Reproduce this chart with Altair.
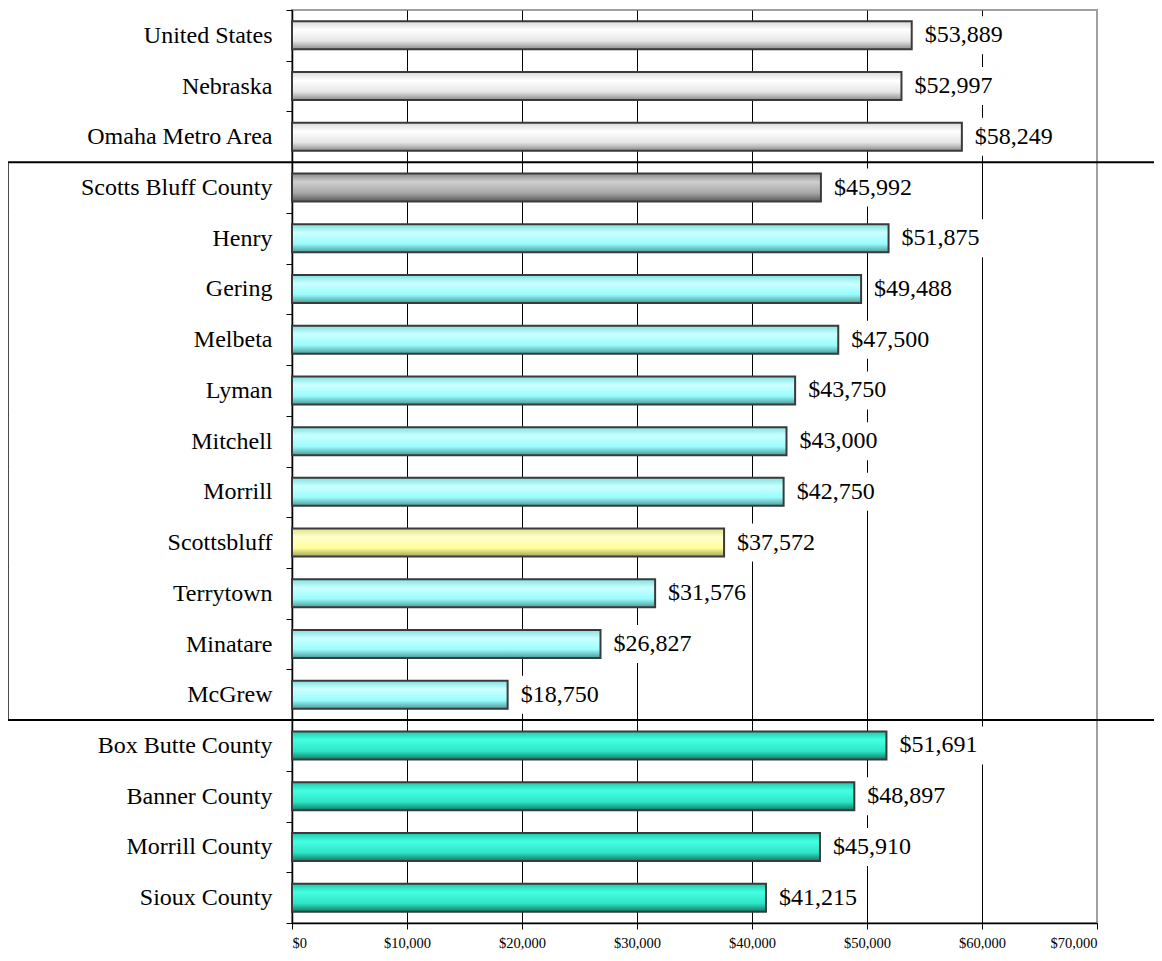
import altair as alt
import pandas as pd

names = ["United States", "Nebraska", "Omaha Metro Area", "Scotts Bluff County", "Henry",
         "Gering", "Melbeta", "Lyman", "Mitchell", "Morrill", "Scottsbluff", "Terrytown",
         "Minatare", "McGrew", "Box Butte County", "Banner County", "Morrill County", "Sioux County"]
values = [53889, 52997, 58249, 45992, 51875, 49488, 47500, 43750, 43000, 42750, 37572, 31576,
          26827, 18750, 51691, 48897, 45910, 41215]
groups = ["ref"] * 3 + ["sbc"] + ["city"] * 6 + ["focus"] + ["city"] * 3 + ["county"] * 4
x_ticks = [0, 10000, 20000, 30000, 40000, 50000, 60000, 70000]

df = pd.DataFrame({"name": names, "value": values, "grp": groups})

FONT = "Liberation Serif"


def grad(c0, c1, c2, c3):
    return {"gradient": "linear", "x1": 0, "y1": 0, "x2": 0, "y2": 1,
            "stops": [{"offset": 0, "color": c0}, {"offset": 0.3, "color": c1},
                      {"offset": 0.7, "color": c2}, {"offset": 1, "color": c3}]}


fills = {
    "ref": grad("#d8d8d8", "#ffffff", "#e6e6e6", "#8c8c8c"),
    "sbc": grad("#8c8c8c", "#cfcfcf", "#a6a6a6", "#5a5a5a"),
    "city": grad("#7fe0e0", "#ccffff", "#99fcfc", "#4a9a9a"),
    "focus": grad("#e0e08a", "#ffffcc", "#ffff99", "#a0a05a"),
    "county": grad("#1fc8a8", "#44ffe2", "#2ee6c6", "#0f7a68"),
}

y_scale = alt.Scale(paddingInner=0, paddingOuter=0)
y_axis = alt.Axis(title=None, domainColor="black", domainWidth=1.5, tickColor="black",
                  tickSize=6, tickBand="extent", labelFont=FONT, labelFontSize=24,
                  labelColor="black", labelPadding=14, labelLimit=400)
x_scale = alt.Scale(domain=[0, 70000], nice=False)
x_axis = alt.Axis(title=None, values=x_ticks, format="$,.0f", grid=True,
                  gridColor={"condition": {"test": "datum.value === 70000", "value": "#a0a0a0"},
                             "value": "black"},
                  gridWidth=1, domainColor="black", domainWidth=1.5, tickColor="black",
                  tickSize=6, labelFont=FONT, labelFontSize=14.5, labelColor="black",
                  labelPadding=7)


def Y(**kw):
    return alt.Y("name:N", sort=names, scale=y_scale, axis=y_axis, **kw)


base = alt.Chart(df)

# white label backgrounds (hide gridlines behind value labels)
boxes = base.transform_calculate(
    lo="datum.value + 600", hi="datum.value + 8400"
).mark_bar(size=38, color="white").encode(
    y=Y(),
    x=alt.X("lo:Q", scale=x_scale, axis=x_axis),
    x2="hi:Q",
)

bars = []
for g, f in fills.items():
    bars.append(
        base.transform_filter(alt.datum.grp == g)
        .mark_bar(size=28, fill=f, stroke="#3a3a3a", strokeWidth=2)
        .encode(y=Y(), x=alt.X("value:Q", scale=x_scale, axis=x_axis))
    )

labels = base.mark_text(align="left", baseline="middle", dx=13, font=FONT,
                        fontSize=24, color="black").encode(
    y=Y(),
    x=alt.X("value:Q", scale=x_scale, axis=x_axis),
    text=alt.Text("value:Q", format="$,.0f"),
)

frame_top = base.transform_filter(alt.datum.name == "Scotts Bluff County").mark_rule(
    color="black", strokeWidth=2).encode(
    y=Y(bandPosition=0), x=alt.value(-284), x2=alt.value(862))
frame_bottom = base.transform_filter(alt.datum.name == "McGrew").mark_rule(
    color="black", strokeWidth=2).encode(
    y=Y(bandPosition=1), x=alt.value(-284), x2=alt.value(862))
frame_left = base.transform_filter(
    alt.FieldOneOfPredicate(field="grp", oneOf=["sbc", "city", "focus"])
).mark_tick(orient="vertical", size=51, thickness=2, color="black").encode(
    y=Y(), x=alt.value(-284))

chart = alt.layer(boxes, *bars, labels, frame_top, frame_bottom, frame_left).properties(
    width=805, height=913,
    padding={"left": 284, "top": 2, "right": 57, "bottom": 30},
    autosize=alt.AutoSizeParams(type="none"),
).configure_view(stroke="#a0a0a0", strokeWidth=2)

chart.save("out.html", embed_options={"renderer": "svg", "actions": False})
